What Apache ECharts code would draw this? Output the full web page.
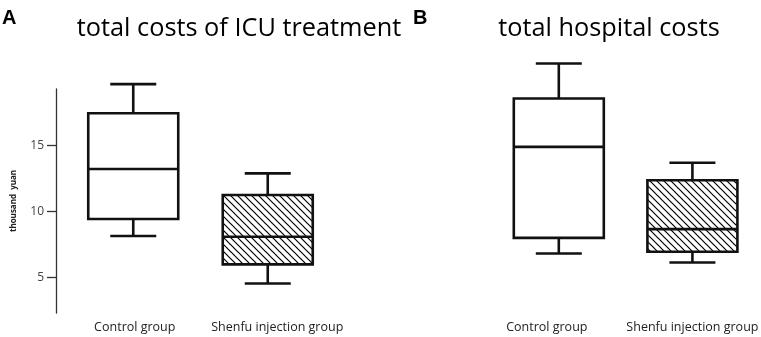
<!DOCTYPE html>
<html>
<head>
<meta charset="utf-8">
<script src="https://cdn.jsdelivr.net/npm/echarts@6/dist/echarts.min.js"></script>
<style>
  html, body { margin: 0; padding: 0; background: #fff; }
  #chart { width: 761px; height: 337px; }
</style>
</head>
<body>
<div id="chart"></div>
<script>
// box values: [min, Q1, median, Q3, max], thousand yuan
const categories = ['Control group', 'Shenfu injection group'];
const icuControl = [8.14, 9.43, 13.23, 17.46, 19.67];
const icuShenfu = [4.54, 5.99, 8.09, 11.25, 12.90];
const hospControl = [6.82, 8.01, 14.92, 18.60, 21.26];
const hospShenfu = [6.14, 6.95, 8.67, 12.39, 13.71];
const yTicks = [5, 10, 15];

const font = '"Open Sans", "Noto Sans", sans-serif';

// diagonal hatch pattern
const hatch = document.createElement('canvas');
hatch.width = 7;
hatch.height = 7;
const ctx = hatch.getContext('2d');
ctx.fillStyle = '#fff';
ctx.fillRect(0, 0, 7, 7);
ctx.strokeStyle = '#000';
ctx.lineWidth = 1.2;
[-7, 0, 7].forEach(c => {
    ctx.beginPath();
    ctx.moveTo(-1, c - 1);
    ctx.lineTo(8, c + 8);
    ctx.stroke();
});

const boxWidth = 90;
const capWidth = 46;

function renderBox(params, api) {
    const x = api.coord([api.value(0), 0])[0];
    const yMin = api.coord([0, api.value(1)])[1];
    const yQ1 = api.coord([0, api.value(2)])[1];
    const yMed = api.coord([0, api.value(3)])[1];
    const yQ3 = api.coord([0, api.value(4)])[1];
    const yMax = api.coord([0, api.value(5)])[1];
    const hatched = api.value(6) === 1;
    const line = { stroke: '#111', lineWidth: 2.6 };
    return {
        type: 'group',
        children: [
            { type: 'line', shape: { x1: x, y1: yMax, x2: x, y2: yQ3 }, style: line },
            { type: 'line', shape: { x1: x, y1: yQ1, x2: x, y2: yMin }, style: line },
            { type: 'line', shape: { x1: x - capWidth / 2, y1: yMax, x2: x + capWidth / 2, y2: yMax }, style: line },
            { type: 'line', shape: { x1: x - capWidth / 2, y1: yMin, x2: x + capWidth / 2, y2: yMin }, style: line },
            {
                type: 'rect',
                shape: { x: x - boxWidth / 2, y: yQ3, width: boxWidth, height: yQ1 - yQ3 },
                style: { fill: hatched ? { image: hatch, repeat: 'repeat' } : '#fff', stroke: '#111', lineWidth: 2.6 }
            },
            { type: 'line', shape: { x1: x - boxWidth / 2, y1: yMed, x2: x + boxWidth / 2, y2: yMed }, style: line }
        ]
    };
}

function rows(a, b) {
    return [[0].concat(a, [0]), [1].concat(b, [1])];
}

const labelText = { color: '#222', fontSize: 12.5, fontFamily: font };
// labels are not quite centred under the boxes in the original
function xAxisFor(grid, pads) {
    const rich = {};
    pads.forEach((p, i) => { rich['c' + i] = Object.assign({ padding: p }, labelText); });
    return {
        gridIndex: grid,
        type: 'category',
        data: categories,
        axisLine: { show: false },
        axisTick: { show: false },
        axisLabel: {
            interval: 0,
            margin: 8,
            formatter: (v, i) => '{c' + i + '|' + v + '}',
            rich: rich
        }
    };
}

const option = {
    backgroundColor: '#fff',
    animation: false,
    title: [
        { text: 'A', left: -3, top: 3, textStyle: { fontSize: 20, fontWeight: 'bold', fontFamily: 'Liberation Sans, Arial', color: '#000' } },
        { text: 'total costs of ICU treatment', left: 234, top: 11, textAlign: 'center', textStyle: { fontSize: 25.3, fontWeight: 'normal', fontFamily: font, color: '#000' } },
        { text: 'B', left: 408, top: 3, textStyle: { fontSize: 20, fontWeight: 'bold', fontFamily: 'Liberation Sans, Arial', color: '#000' } },
        { text: 'total hospital costs', left: 604, top: 11, textAlign: 'center', textStyle: { fontSize: 25.3, fontWeight: 'normal', fontFamily: font, color: '#000' } }
    ],
    grid: [
        { left: 66, top: 89, width: 269, height: 224 },
        { left: 492, top: 50, width: 269, height: 263 }
    ],
    xAxis: [
        xAxisFor(0, [[0, 0, 0, 3], [0, 0, 0, 19]]),
        xAxisFor(1, [[0, 24, 0, 0], [0, 0, 0, 0]])
    ],
    yAxis: [
        {
            gridIndex: 0,
            type: 'value',
            min: 2.3,
            max: 19.3,
            offset: 10,
            name: 'thousand  yuan',
            nameLocation: 'middle',
            nameGap: 38,
            nameTextStyle: { fontSize: 8, fontWeight: 'bold', color: '#222', fontFamily: font },
            axisLine: { show: true, lineStyle: { color: '#333', width: 1.3 } },
            axisTick: { show: true, length: 9, customValues: yTicks, lineStyle: { color: '#333', width: 1.3 } },
            axisLabel: { customValues: yTicks, color: '#444', fontSize: 12, fontFamily: font, margin: 12 },
            splitLine: { show: false }
        },
        {
            gridIndex: 1,
            type: 'value',
            min: 2.3,
            max: 22.28,
            show: false,
            splitLine: { show: false }
        }
    ],
    series: [
        {
            type: 'custom',
            xAxisIndex: 0,
            yAxisIndex: 0,
            renderItem: renderBox,
            encode: { x: 0, y: [1, 2, 3, 4, 5] },
            data: rows(icuControl, icuShenfu)
        },
        {
            type: 'custom',
            xAxisIndex: 1,
            yAxisIndex: 1,
            renderItem: renderBox,
            encode: { x: 0, y: [1, 2, 3, 4, 5] },
            data: rows(hospControl, hospShenfu)
        }
    ]
};

const chart = echarts.init(document.getElementById('chart'));
chart.setOption(option);
</script>
</body>
</html>
